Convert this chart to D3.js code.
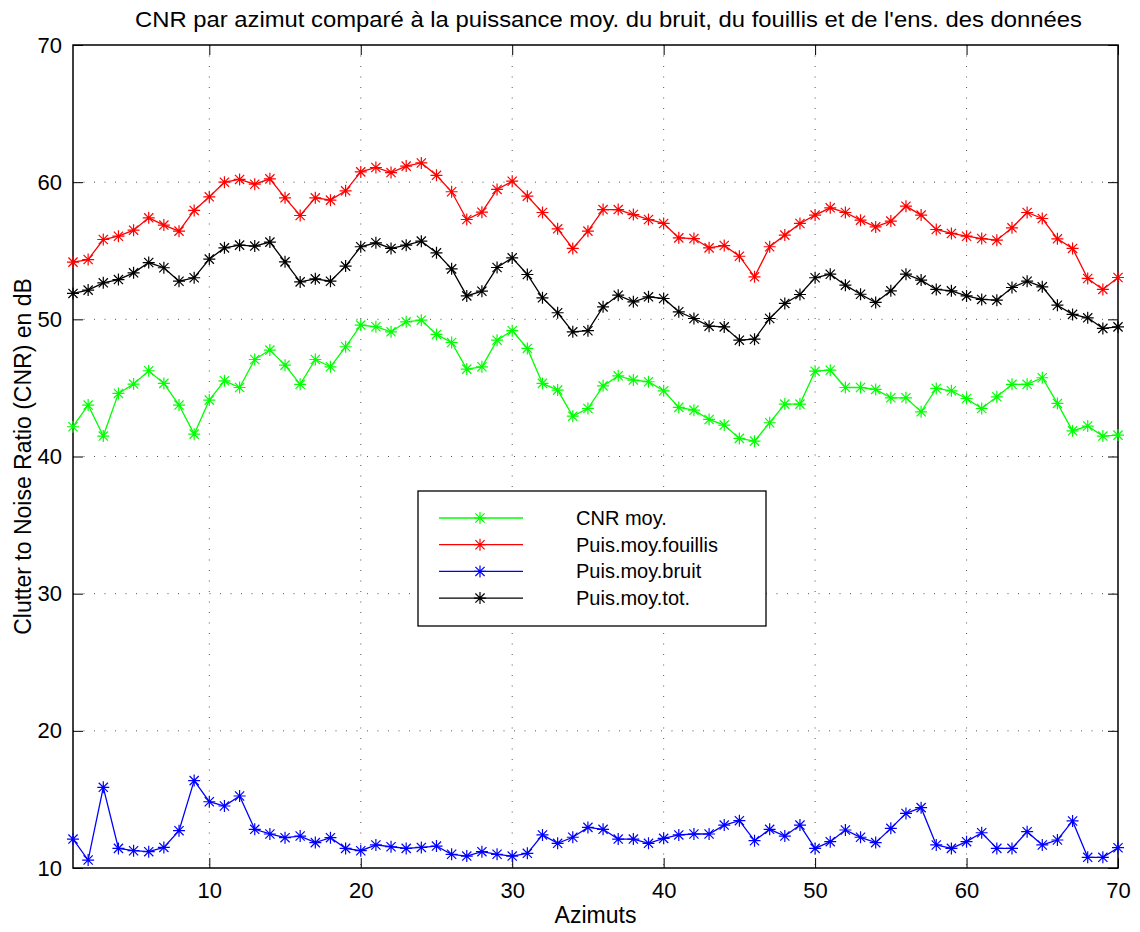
<!DOCTYPE html>
<html>
<head>
<meta charset="utf-8">
<script src="https://cdn.jsdelivr.net/npm/d3@7"></script>
<style>
  body { margin: 0; background: #fff; }
  text { font-family: "Liberation Sans", Arial, sans-serif; fill: #000; }
</style>
</head>
<body>
<div id="chart"></div>
<script>
const azimuts = d3.range(1, 71);

const cnrMoy = [42.17, 43.75, 41.49, 44.6, 45.28, 46.25, 45.33, 43.75, 41.63, 44.11,
  45.52, 45.03, 47.07, 47.76, 46.66, 45.26, 47.07, 46.54, 48.0, 49.58,
  49.46, 49.09, 49.82, 49.94, 48.9, 48.31, 46.37, 46.54, 48.48, 49.17,
  47.88, 45.33, 44.84, 42.94, 43.5, 45.15, 45.88, 45.57, 45.45, 44.79,
  43.58, 43.38, 42.7, 42.29, 41.32, 41.12, 42.46, 43.82, 43.82, 46.22,
  46.29, 45.03, 45.03, 44.89, 44.28, 44.28, 43.26, 44.96, 44.79, 44.23,
  43.5, 44.35, 45.26, 45.26, 45.74, 43.87, 41.87, 42.22, 41.49, 41.56];

const puisFouillis = [54.17, 54.36, 55.82, 56.06, 56.5, 57.4, 56.87, 56.43, 57.94, 58.93,
  60.0, 60.2, 59.85, 60.24, 58.86, 57.57, 58.86, 58.69, 59.37, 60.75,
  61.07, 60.7, 61.17, 61.4, 60.5, 59.3, 57.28, 57.81, 59.47, 60.07,
  58.98, 57.79, 56.6, 55.17, 56.43, 58.0, 58.0, 57.64, 57.28, 56.99,
  55.94, 55.89, 55.21, 55.38, 54.6, 53.1, 55.29, 56.14, 56.99, 57.6,
  58.13, 57.79, 57.23, 56.74, 57.16, 58.25, 57.6, 56.55, 56.26, 56.06,
  55.89, 55.77, 56.67, 57.79, 57.35, 55.87, 55.17, 52.98, 52.18, 53.05];

const puisBruit = [12.11, 10.58, 15.88, 11.43, 11.26, 11.19, 11.5, 12.72, 16.37, 14.83,
  14.52, 15.25, 12.82, 12.48, 12.21, 12.33, 11.85, 12.21, 11.43, 11.26,
  11.68, 11.55, 11.43, 11.5, 11.6, 11.0, 10.87, 11.19, 11.0, 10.87,
  11.07, 12.41, 11.8, 12.24, 12.96, 12.82, 12.11, 12.11, 11.8, 12.16,
  12.41, 12.48, 12.48, 13.13, 13.45, 11.99, 12.82, 12.33, 13.13, 11.43,
  11.92, 12.77, 12.24, 11.85, 12.89, 13.98, 14.4, 11.68, 11.43, 11.92,
  12.57, 11.43, 11.43, 12.65, 11.68, 12.04, 13.43, 10.78, 10.78, 11.48];

const puisTot = [51.89, 52.13, 52.66, 52.9, 53.39, 54.14, 53.76, 52.78, 53.03, 54.39,
  55.21, 55.41, 55.34, 55.63, 54.19, 52.73, 52.95, 52.78, 53.88, 55.29,
  55.58, 55.17, 55.41, 55.7, 54.85, 53.68, 51.71, 52.05, 53.78, 54.48,
  53.27, 51.57, 50.48, 49.09, 49.17, 50.91, 51.76, 51.28, 51.64, 51.52,
  50.55, 50.06, 49.5, 49.45, 48.48, 48.55, 50.06, 51.16, 51.81, 53.03,
  53.29, 52.49, 51.83, 51.23, 52.08, 53.29, 52.86, 52.18, 52.08, 51.71,
  51.45, 51.4, 52.32, 52.78, 52.37, 51.03, 50.36, 50.11, 49.34, 49.45];

const seriesNames = ["CNR moy.", "Puis.moy.fouillis", "Puis.moy.bruit", "Puis.moy.tot."];
const seriesColors = ["#00ff00", "#ff0000", "#0000ff", "#000000"];
const seriesValues = [cnrMoy, puisFouillis, puisBruit, puisTot];

const xTicks = [10, 20, 30, 40, 50, 60, 70];
const yTicks = [10, 20, 30, 40, 50, 60, 70];

const titleText = "CNR par azimut comparé à la puissance moy. du bruit, du fouillis et de l'ens. des données";
const xLabel = "Azimuts";
const yLabel = "Clutter to Noise Ratio (CNR) en dB";

const width = 1140, height = 932;
const margin = { top: 45, right: 22, bottom: 64, left: 73 };

const svg = d3.select("#chart").append("svg")
  .attr("width", width)
  .attr("height", height);

const x = d3.scaleLinear().domain([1, 70]).range([margin.left, width - margin.right]);
const y = d3.scaleLinear().domain([10, 70]).range([height - margin.bottom, margin.top]);

const x0 = x.range()[0], x1 = x.range()[1], y0 = y.range()[0], y1 = y.range()[1];

// dotted grid
svg.append("g").selectAll("line")
  .data(xTicks.filter(t => t > 1 && t < 70))
  .join("line")
  .attr("x1", d => x(d)).attr("x2", d => x(d))
  .attr("y1", y1).attr("y2", y0)
  .attr("stroke", "#555").attr("stroke-width", 1)
  .attr("stroke-dasharray", "1,9.5");

svg.append("g").selectAll("line")
  .data(yTicks.filter(t => t > 10 && t < 70))
  .join("line")
  .attr("x1", x0).attr("x2", x1)
  .attr("y1", d => y(d)).attr("y2", d => y(d))
  .attr("stroke", "#555").attr("stroke-width", 1)
  .attr("stroke-dasharray", "1,9.5");

// axes with inward ticks
const tickLen = 10;
const fontSize = 22;

const xAxis = svg.append("g")
  .attr("transform", `translate(0,${y0})`)
  .call(d3.axisBottom(x).tickValues(xTicks).tickSize(-tickLen).tickPadding(14).tickFormat(d3.format("d")));
const yAxis = svg.append("g")
  .attr("transform", `translate(${x0},0)`)
  .call(d3.axisLeft(y).tickValues(yTicks).tickSize(-tickLen).tickPadding(11).tickFormat(d3.format("d")));
const xAxisTop = svg.append("g")
  .attr("transform", `translate(0,${y1})`)
  .call(d3.axisTop(x).tickValues(xTicks).tickSize(-tickLen).tickFormat(""));
const yAxisRight = svg.append("g")
  .attr("transform", `translate(${x1},0)`)
  .call(d3.axisRight(y).tickValues(yTicks).tickSize(-tickLen).tickFormat(""));

[xAxis, yAxis, xAxisTop, yAxisRight].forEach(g => {
  g.select(".domain").remove();
  g.selectAll("line").attr("stroke", "#000");
  g.selectAll("text")
    .style("font-family", "'Liberation Sans', Arial, sans-serif")
    .style("font-size", fontSize + "px")
    .attr("fill", "#000");
});

svg.append("rect")
  .attr("x", x0).attr("y", y1)
  .attr("width", x1 - x0).attr("height", y0 - y1)
  .attr("fill", "none").attr("stroke", "#000").attr("stroke-width", 1.5);

// asterisk marker
const r = 6, dd = 4.6;
const star = `M0,${-r}V${r}M${-r},0H${r}M${-dd},${-dd}L${dd},${dd}M${-dd},${dd}L${dd},${-dd}`;

const line = d3.line().x((d, i) => x(azimuts[i])).y(d => y(d));

seriesValues.forEach((vals, k) => {
  const g = svg.append("g");
  g.append("path")
    .datum(vals)
    .attr("d", line)
    .attr("fill", "none")
    .attr("stroke", seriesColors[k])
    .attr("stroke-width", 1.3);
  g.selectAll("path.mk")
    .data(vals)
    .join("path")
    .attr("class", "mk")
    .attr("transform", (d, i) => `translate(${x(azimuts[i])},${y(d)})`)
    .attr("d", star)
    .attr("stroke", seriesColors[k])
    .attr("stroke-width", 1.2)
    .attr("fill", "none");
});

// legend
const legend = svg.append("g").attr("transform", "translate(418,491)");
legend.append("rect")
  .attr("width", 348).attr("height", 135)
  .attr("fill", "#fff").attr("stroke", "#000").attr("stroke-width", 1.3);
seriesNames.forEach((name, k) => {
  const ly = 27 + k * 26.7;
  legend.append("line")
    .attr("x1", 21).attr("x2", 105)
    .attr("y1", ly).attr("y2", ly)
    .attr("stroke", seriesColors[k]).attr("stroke-width", 1.3);
  legend.append("path")
    .attr("transform", `translate(62,${ly})`)
    .attr("d", star)
    .attr("stroke", seriesColors[k]).attr("stroke-width", 1.2).attr("fill", "none");
  legend.append("text")
    .attr("x", 158).attr("y", ly + 7)
    .style("font-size", "20px")
    .text(name);
});

// title and labels
svg.append("text")
  .attr("x", 608.5).attr("y", 27)
  .attr("text-anchor", "middle")
  .attr("textLength", 947).attr("lengthAdjust", "spacingAndGlyphs")
  .style("font-size", "22px")
  .text(titleText);

svg.append("text")
  .attr("x", (x0 + x1) / 2).attr("y", 923)
  .attr("text-anchor", "middle")
  .style("font-size", "23px")
  .text(xLabel);

svg.append("text")
  .attr("transform", `translate(31,${(y0 + y1) / 2}) rotate(-90)`)
  .attr("text-anchor", "middle")
  .style("font-size", "23px")
  .text(yLabel);
</script>
</body>
</html>
